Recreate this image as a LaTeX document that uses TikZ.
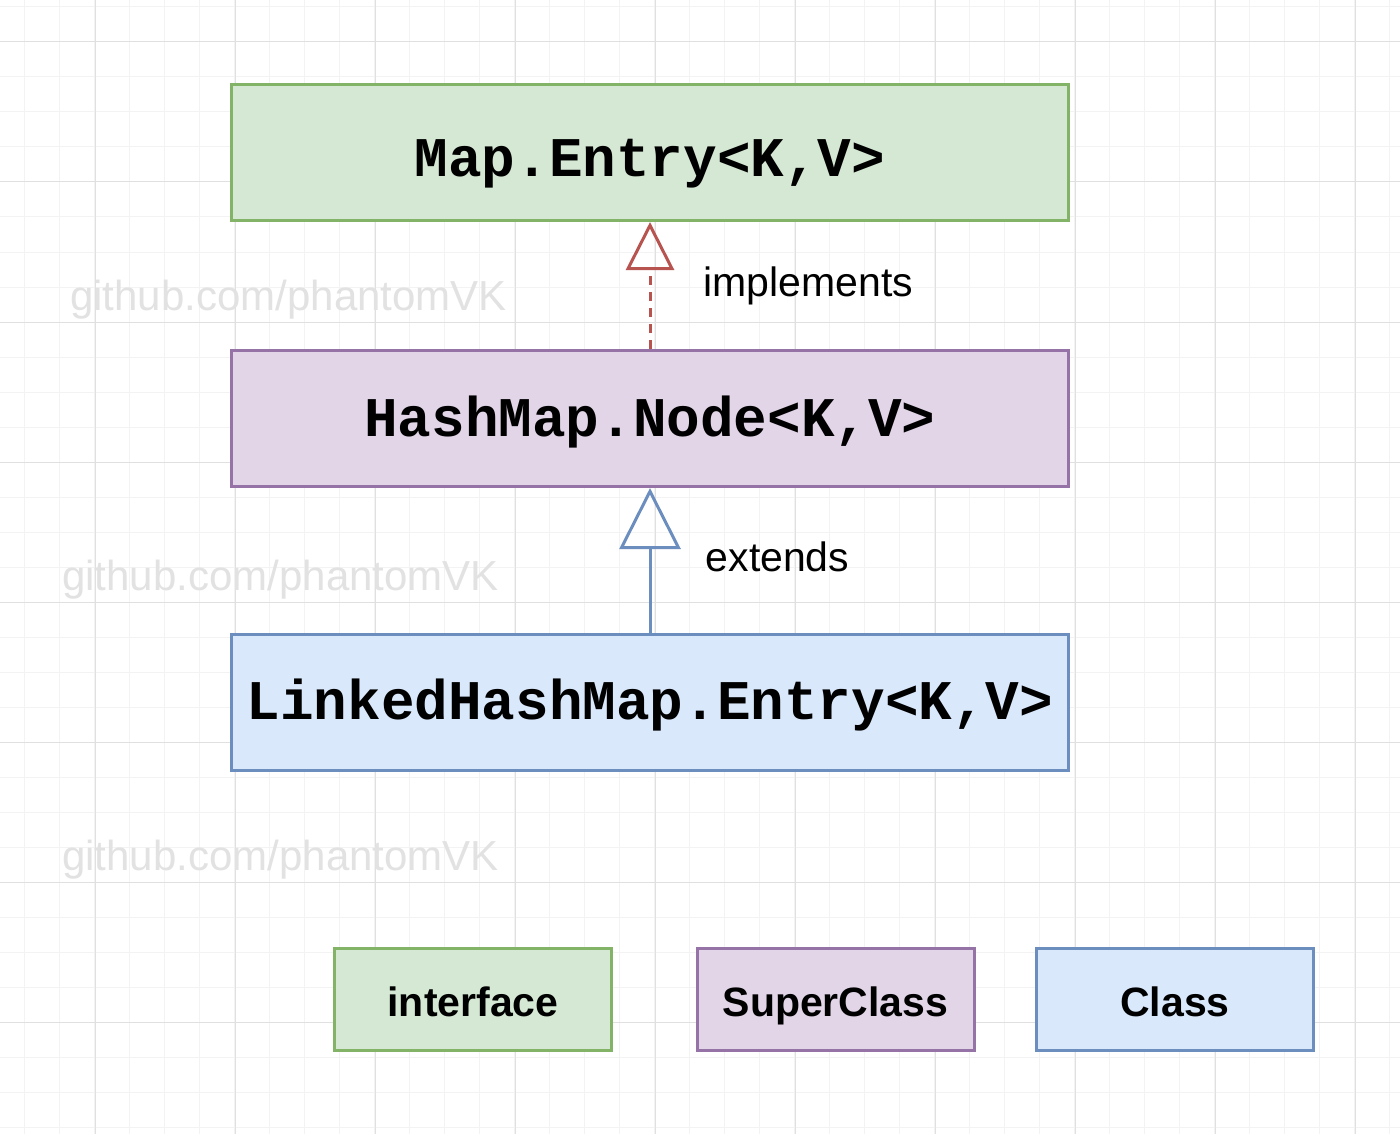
\documentclass[tikz,border=0pt]{standalone}
\usepackage{fontspec}
\setmainfont{Liberation Sans}
\newfontfamily\codefont{Liberation Mono}
\usetikzlibrary{arrows.meta}
\definecolor{gfill}{HTML}{D5E8D4}\definecolor{gdraw}{HTML}{82B366}
\definecolor{pfill}{HTML}{E1D5E7}\definecolor{pdraw}{HTML}{9673A6}
\definecolor{bfill}{HTML}{DAE8FC}\definecolor{bdraw}{HTML}{6C8EBF}
\definecolor{rdraw}{HTML}{B85450}
\definecolor{minorgrid}{HTML}{F3F3F3}\definecolor{majorgrid}{HTML}{E0E0E0}
\definecolor{wmark}{HTML}{E2E2E2}
\tikzset{
  classbox/.style={draw, line width=3pt, inner sep=0pt, minimum width=837pt, minimum height=136pt,
    text depth=0pt, font=\codefont\bfseries\fontsize{56}{60}\selectfont},
  legendbox/.style={draw, line width=3pt, inner sep=0pt, minimum width=277pt, minimum height=102pt,
    text height=33pt, text depth=0pt, font=\bfseries\fontsize{41}{44}\selectfont},
  rellabel/.style={font=\fontsize{41}{44}\selectfont, inner sep=0pt, anchor=base},
  watermark/.style={text=wmark, font=\fontsize{42}{46}\selectfont, inner sep=0pt, anchor=base west},
}
\begin{document}
\begin{tikzpicture}[x=1pt,y=-1pt]
\useasboundingbox (0,0) rectangle (1400,1134);
\fill[white] (0,0) rectangle (1400,1134);
% grid
\foreach \i in {0,...,39} {\draw[minorgrid, line width=1pt] ({24+35*\i},0) -- ({24+35*\i},1134);}
\foreach \i in {0,...,32} {\draw[minorgrid, line width=1pt] (0,{7+35*\i}) -- (1400,{7+35*\i});}
\foreach \i in {0,...,9} {\draw[majorgrid, line width=1pt] ({95+140*\i},0) -- ({95+140*\i},1134);}
\foreach \i in {0,...,7} {\draw[majorgrid, line width=1pt] (0,{42+140*\i}) -- (1400,{42+140*\i});}
% watermarks
\node[watermark] (w1) at (70,310) {github.com/phantomVK};
\node[watermark] (w2) at (62,590) {github.com/phantomVK};
\node[watermark] (w3) at (62,870) {github.com/phantomVK};
% class boxes
\node[classbox, fill=gfill, draw=gdraw, text height=48pt] (me) at (650,152.5) {Map.Entry<K,V>};
\node[classbox, fill=pfill, draw=pdraw, text height=36pt] (hn) at (650,418.5) {HashMap.Node<K,V>};
\node[classbox, fill=bfill, draw=bdraw, text height=34pt] (le) at (650,702) {LinkedHashMap.Entry<K,V>};
% relations
\draw[rdraw, line width=3pt, dash pattern=on 9pt off 7pt,
  -{Triangle[open, length=48pt, width=48pt, line width=3pt]}] (hn.north) -- (me.south);
\draw[bdraw, line width=3pt,
  -{Triangle[open, length=61pt, width=61pt, line width=3pt]}] (le.north) -- (hn.south);
\node[rellabel] (impl) at (808.5,296) {implements};
\node[rellabel] (ext) at (777.5,571) {extends};
% legend
\node[legendbox, fill=gfill, draw=gdraw] (lg1) at (473,999.5) {interface};
\node[legendbox, fill=pfill, draw=pdraw] (lg2) at (835.5,999.5) {SuperClass};
\node[legendbox, fill=bfill, draw=bdraw] (lg3) at (1175,999.5) {Class};
\end{tikzpicture}
\end{document}
